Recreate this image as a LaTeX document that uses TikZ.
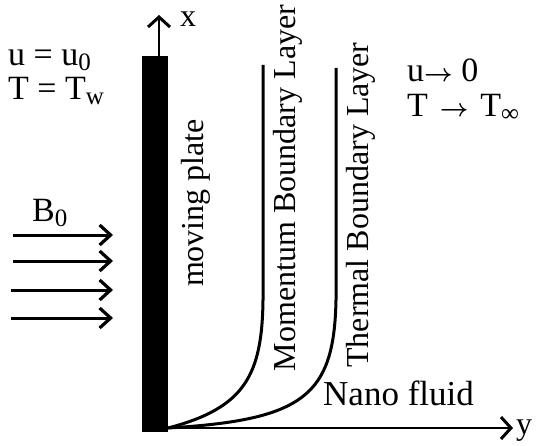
\documentclass[tikz,border=0pt]{standalone}
\usepackage{fontspec}
\setmainfont{Liberation Serif}
\usetikzlibrary{arrows.meta}
\newcommand\mysub[1]{\raisebox{-0.12em}{\fontsize{25}{25}\selectfont #1}}
\newcommand\myarr{{\boldmath$\rightarrow$}}
\tikzset{
  lbl/.style={inner sep=0pt, font=\fontsize{32}{36}\selectfont},
  blbl/.style={inner sep=0pt, font=\fontsize{34}{38}\selectfont},
  rlbl/.style={lbl, rotate=90},
  curve/.style={line width=3pt},
  ax/.style={line width=2.6pt, -{Straight Barb[length=10pt,width=22pt,line width=3pt]}},
  field/.style={line width=3pt, -{Straight Barb[length=11pt,width=20pt,line width=3.2pt]}}
}
\begin{document}
\begin{tikzpicture}[x=1pt,y=-1pt]
\useasboundingbox (0,0) rectangle (537,446);
% plate
\node[fill=black, inner sep=0pt, minimum width=26pt, minimum height=376pt] (plate) at (155,244) {};
% axes
\coordinate (xtip) at (159,15);
\coordinate (origin) at (168,428);
\coordinate (ytip) at (513,428);
\draw[ax] (plate.north -| xtip) -- (xtip);
\draw[ax] (origin) -- (ytip);
\node[lbl, anchor=base west] (xl) at (180,27) {x};
\node[lbl, anchor=base west] (yl) at (516,434) {y};
% boundary layers
\coordinate (m0) at (263,65);
\coordinate (m1) at (263,300);
\coordinate (t0) at (336,68);
\coordinate (t1) at (336,300);
\draw[curve] (m0) -- (m1) .. controls (262,375) and (245,408) .. (origin);
\draw[curve] (t0) -- (t1) .. controls (334,395) and (305,420) .. (origin);
% rotated labels
\node[rlbl] (mp) at (196,203) {moving plate};
\node[rlbl] (mbl) at (288,188) {Momentum Boundary Layer};
\node[rlbl] (tbl) at (361,205) {Thermal Boundary Layer};
\node[blbl, font=\fontsize{35}{38}\selectfont, anchor=base west] (nf) at (323,405) {Nano fluid};
% conditions
\node[blbl, anchor=base west] (c1) at (8,66) {u = u\mysub{0}};
\node[blbl, anchor=base west] (c2) at (8,100) {T = T\mysub{w}};
\node[blbl, anchor=base west] (c3) at (407,82) {u\myarr\ 0};
\node[blbl, anchor=base west] (c4) at (407,117) {T\hspace{0.35em}\myarr\hspace{0.35em}T\mysub{∞}};
% magnetic field
\node[blbl, anchor=base west] (b0) at (32,222) {B\mysub{0}};
\foreach \yy/\xs [count=\i] in {235/13,261/13,290/11,318/11}{
  \coordinate (fs\i) at (\xs,\yy);
  \coordinate (fe\i) at (113,\yy);
  \draw[field] (fs\i) -- (fe\i);
}
\end{tikzpicture}
\end{document}
